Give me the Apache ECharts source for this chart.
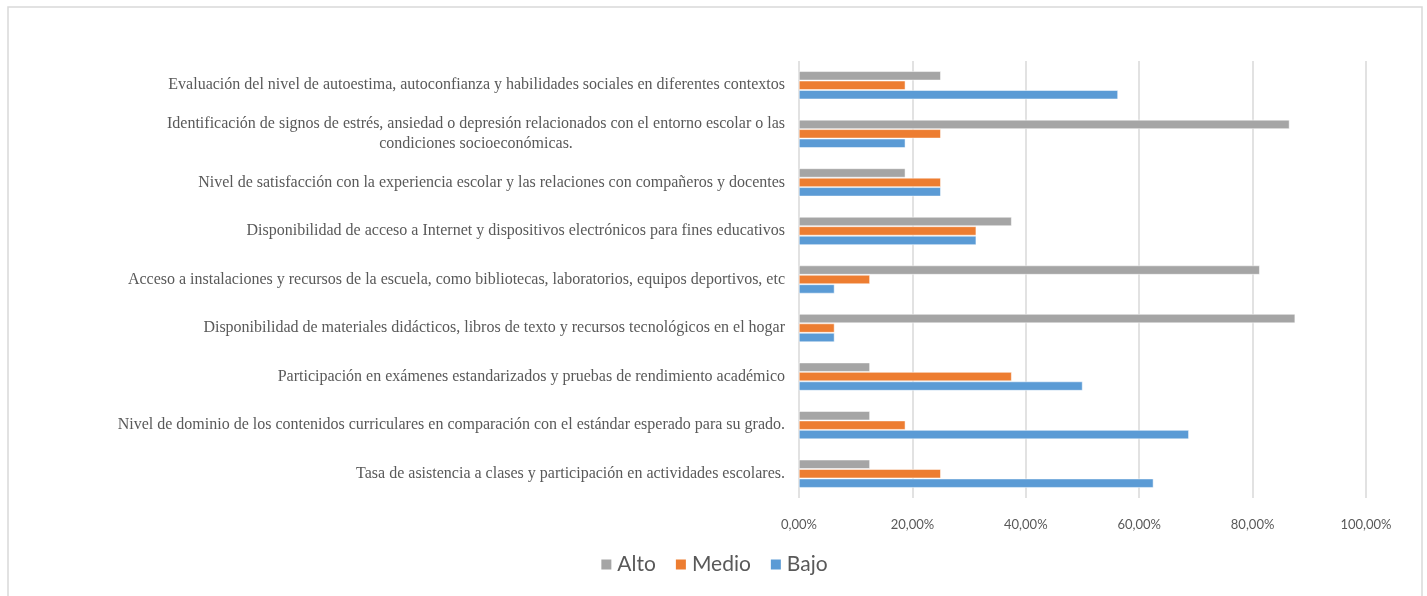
<!DOCTYPE html>
<html>
<head>
<meta charset="utf-8">
<script src="https://cdn.jsdelivr.net/npm/echarts@6/dist/echarts.min.js"></script>
<style>
  html, body { margin: 0; padding: 0; background: #fff; }
  #chart { width: 1427px; height: 596px; }
</style>
</head>
<body>
<div id="chart"></div>
<script>
// categories, top to bottom as in the picture
var categories = [
  'Evaluación del nivel de autoestima, autoconfianza y habilidades sociales en diferentes contextos',
  'Identificación de signos de estrés, ansiedad o depresión relacionados con el entorno escolar o las\ncondiciones socioeconómicas.',
  'Nivel de satisfacción con la experiencia escolar y las relaciones con compañeros y docentes',
  'Disponibilidad de acceso a Internet y dispositivos electrónicos para fines educativos',
  'Acceso a instalaciones y recursos de la escuela, como bibliotecas, laboratorios, equipos deportivos, etc',
  'Disponibilidad de materiales didácticos, libros de texto y recursos tecnológicos en el hogar',
  'Participación en exámenes estandarizados y pruebas de rendimiento académico',
  'Nivel de dominio de los contenidos curriculares en comparación con el estándar esperado para su grado.',
  'Tasa de asistencia a clases y participación en actividades escolares.'
];
var alto  = [25, 86.5, 18.75, 37.5, 81.25, 87.5, 12.5, 12.5, 12.5];
var medio = [18.75, 25, 25, 31.25, 12.5, 6.25, 37.5, 18.75, 25];
var bajo  = [56.25, 18.75, 25, 31.25, 6.25, 6.25, 50, 68.75, 62.5];
var seriesNames = ['Alto', 'Medio', 'Bajo'];
var colors = ['#a5a5a5', '#ed7d31', '#5b9bd5'];

var chart = echarts.init(document.getElementById('chart'));

function pct(v) {
  return v.toFixed(2).replace('.', ',') + '%';
}

function barSeries(name, data) {
  return {
    name: name,
    type: 'bar',
    barWidth: 9,
    barGap: '5%',
    itemStyle: { borderColor: '#fff', borderWidth: 0.5 },
    data: data
  };
}

var option = {
  color: colors,
  animation: false,
  graphic: [{
    type: 'rect',
    shape: { x: 8, y: 7, width: 1414, height: 600 },
    style: { fill: 'none', stroke: '#d9d9d9', lineWidth: 1.5 },
    silent: true
  }],
  grid: {
    left: 799,
    right: 61,
    top: 61,
    bottom: 98,
    containLabel: false
  },
  legend: {
    bottom: 16,
    left: 'center',
    itemWidth: 12,
    itemHeight: 12,
    itemGap: 18,
    icon: 'rect',
    textStyle: { fontFamily: 'Lato', fontSize: 21, color: '#595959' },
    data: seriesNames
  },
  xAxis: {
    type: 'value',
    min: 0,
    max: 100,
    interval: 20,
    axisLine: { show: false },
    axisTick: { show: false },
    splitLine: { show: true, lineStyle: { color: '#d9d9d9', width: 1.5 } },
    axisLabel: {
      margin: 20,
      fontFamily: 'Lato',
      fontSize: 13,
      color: '#595959',
      formatter: pct
    }
  },
  yAxis: {
    type: 'category',
    inverse: true,
    data: categories,
    axisLine: { show: false },
    axisTick: { show: false },
    axisLabel: {
      margin: 14,
      fontFamily: 'Liberation Serif',
      fontSize: 16,
      color: '#595959',
      lineHeight: 20,
      formatter: function (v) {
        return v.split('\n').map(function (s) { return '{c|' + s + '}'; }).join('\n');
      },
      rich: {
        c: {
          align: 'center',
          fontFamily: 'Liberation Serif',
          fontSize: 16,
          color: '#595959',
          lineHeight: 20
        }
      }
    }
  },
  series: [
    barSeries('Alto', alto),
    barSeries('Medio', medio),
    barSeries('Bajo', bajo)
  ]
};

chart.setOption(option);
</script>
</body>
</html>
